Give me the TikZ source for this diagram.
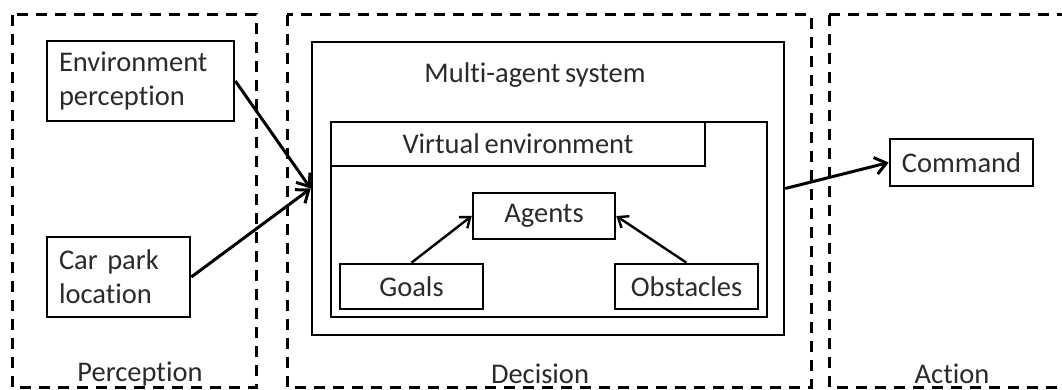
\documentclass[tikz,border=0pt]{standalone}
\usepackage{fontspec}
\setmainfont{Carlito}[Ligatures=NoCommon, WordSpace=0.75]
\usetikzlibrary{arrows.meta}
\definecolor{txt}{HTML}{2A2A2A}
\begin{document}
\begin{tikzpicture}[x=1pt,y=-1pt,
  every node/.style={font=\fontsize{28.5}{34}\selectfont, text=txt},
  zone/.style={draw, dash pattern=on 11pt off 8pt, line width=3pt},
  blk/.style={draw, line width=2.6pt, rectangle, inner sep=0pt, outer sep=1.3pt},
  lbl/.style={anchor=base, inner sep=0pt},
  link/.style={line width=3pt, -{Straight Barb[length=11pt,width=17pt,line width=3pt]}},
  small link/.style={line width=2.4pt, -{Straight Barb[length=9pt,width=14pt,line width=2.4pt]}}]
\useasboundingbox (0,0) rectangle (1062,390);
\clip (0,0) rectangle (1062,390);

% stage regions
\draw[zone] (12,15) rectangle (256,387);
\draw[zone] (287,15) rectangle (811,387);
\draw[zone] (829,15) rectangle (1080,387);
\node[lbl] (perc) at (140,381) {Perception};
\node[lbl] (deci) at (540,383) {Decision};
\node[lbl] (act) at (952,383) {Action};

% perception inputs
\node[blk, minimum width=187pt, minimum height=80pt, text width=163pt,
      inner xsep=12pt, align=left] (env) at (140.5,81) {Environment\\perception};
\node[blk, minimum width=143pt, minimum height=80pt, text width=119pt,
      inner xsep=12pt, align=left] (car) at (118.5,277) {Car park\\location};

% multi-agent system
\node[blk, minimum width=472pt, minimum height=293pt] (mas) at (548,188.5) {};
\node[lbl] (masl) at (535,83) {Multi-agent system};
\node[blk, minimum width=436pt, minimum height=195pt] (ve) at (549,219.5) {};
\node[blk, minimum width=374pt, minimum height=44pt] (veh) at (518,144) {Virtual environment};
\node[blk, minimum width=142pt, minimum height=46pt] (agents) at (544,216) {Agents};
\node[blk, minimum width=143pt, minimum height=45pt] (goals) at (411.5,286.5) {Goals};
\node[blk, minimum width=143pt, minimum height=45pt] (obst) at (686.5,286.5) {Obstacles};

% action output
\node[blk, minimum width=143pt, minimum height=47pt] (cmd) at (961.5,162.5) {Command};

% connectors
\draw[link] (env.east) -- (mas.west);
\draw[link] (car.east) -- (mas.west);
\draw[link] (mas.east) -- (cmd.west);
\draw[small link] (goals.north) -- (agents.west);
\draw[small link] (obst.north) -- (agents.east);
\end{tikzpicture}
\end{document}
